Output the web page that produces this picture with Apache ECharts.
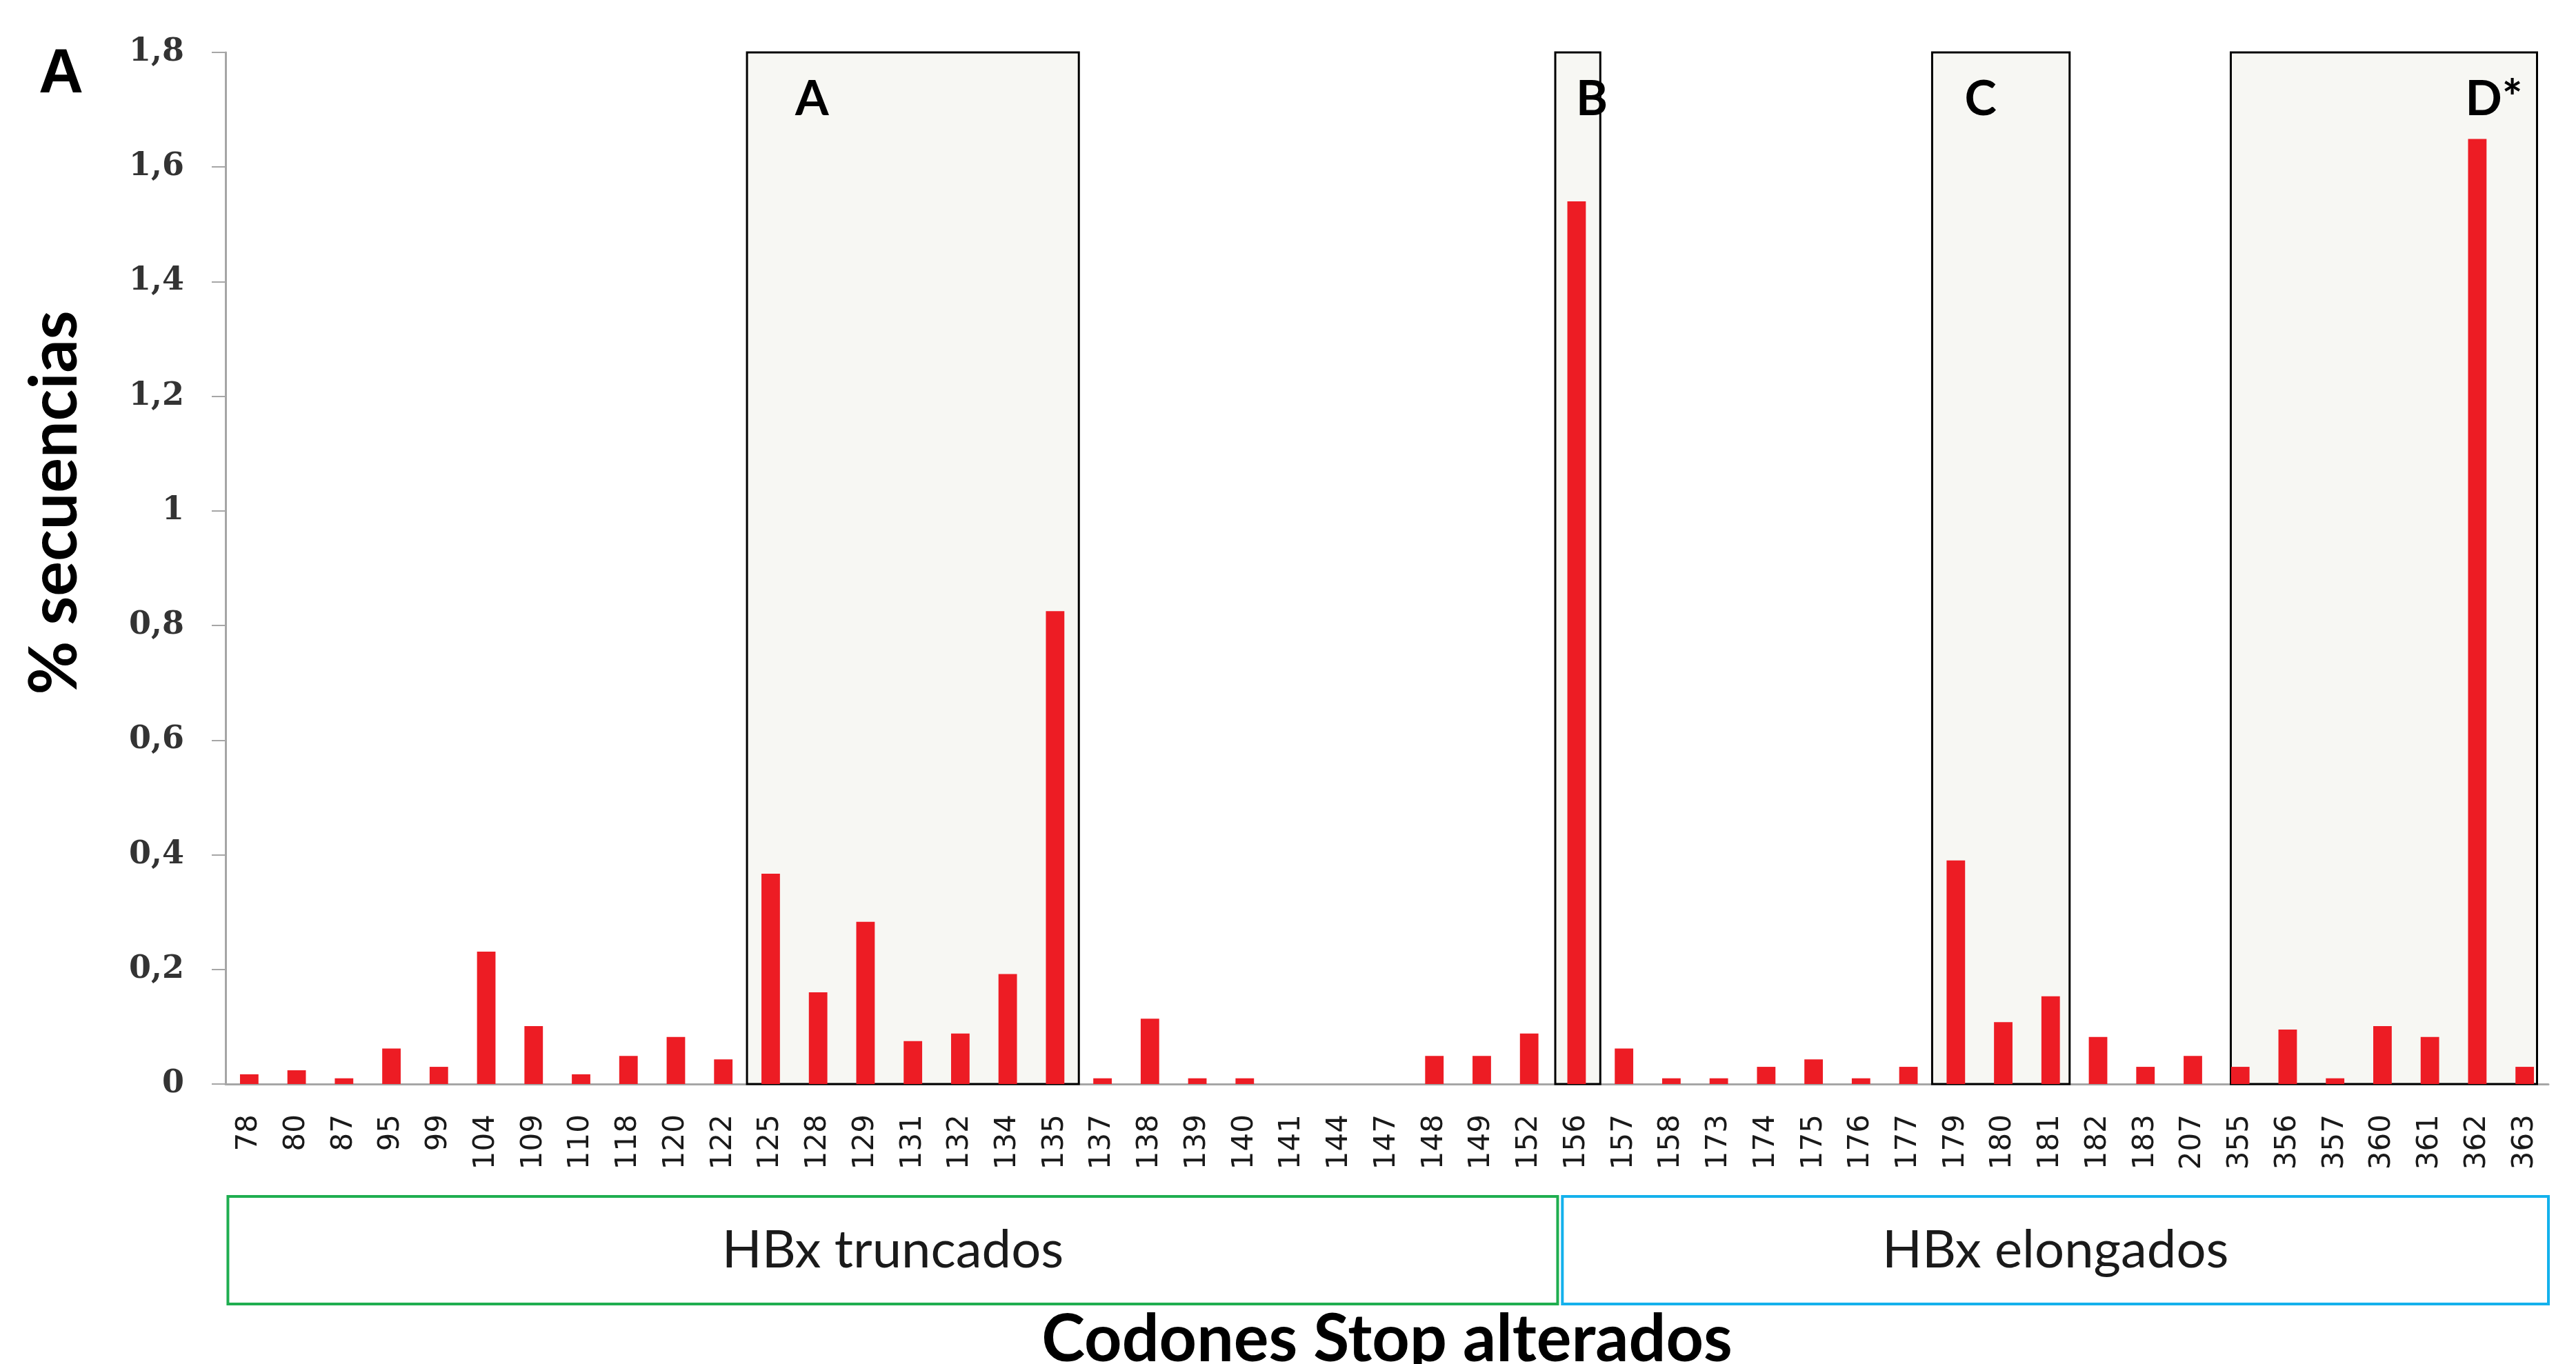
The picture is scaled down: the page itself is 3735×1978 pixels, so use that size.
<!DOCTYPE html>
<html>
<head>
<meta charset="utf-8">
<script src="https://cdn.jsdelivr.net/npm/echarts@6/dist/echarts.min.js"></script>
<style>
  html, body { margin: 0; padding: 0; background: #fff; }
  #main { width: 3735px; height: 1978px; }
</style>
</head>
<body>
<div id="main"></div>
<script>
// codones stop alterados (x) y % de secuencias (y)
var codons = ['78', '80', '87', '95', '99', '104', '109', '110', '118', '120', '122',
    '125', '128', '129', '131', '132', '134', '135', '137', '138', '139', '140', '141',
    '144', '147', '148', '149', '152', '156', '157', '158', '173', '174', '175', '176',
    '177', '179', '180', '181', '182', '183', '207', '355', '356', '357', '360', '361',
    '362', '363'];
var percent = [0.017, 0.024, 0.010, 0.062, 0.030, 0.231, 0.101, 0.017, 0.049, 0.082, 0.043,
    0.367, 0.160, 0.283, 0.075, 0.088, 0.192, 0.825, 0.010, 0.114, 0.010, 0.010, 0,
    0, 0, 0.049, 0.049, 0.088, 1.540, 0.062, 0.010, 0.010, 0.030, 0.043, 0.010,
    0.030, 0.390, 0.108, 0.153, 0.082, 0.030, 0.049, 0.030, 0.095, 0.010, 0.101, 0.082,
    1.649, 0.030];

// recuadros A-D (en unidades de indice de categoria)
var boxNames = ['A', 'B', 'C', 'D*'];
var boxFrom = [10.5, 27.55, 35.5, 41.8];
var boxTo = [17.5, 28.5, 38.4, 48.26];

// grupos bajo el eje
var groupNames = ['HBx truncados', 'HBx elongados'];
var groupFrom = [-0.45, 27.7];
var groupTo = [27.6, 48.5];

var yMax = 1.8;
var boxLabelAt = [11.87, 28.32, 36.52, 47.35];
var groupColors = ['#1fae50', '#14b1ec'];

var myChart = echarts.init(document.getElementById('main'));

function bandX(api) {
    var band = api.size([1, 0])[0];
    var x0 = api.coord([0, 0])[0];
    return function (v) { return x0 + v * band; };
}

function renderBox(params, api) {
    var i = params.dataIndex;
    var toX = bandX(api);
    var yTop = api.coord([0, yMax])[1];
    var yBot = api.coord([0, 0])[1];
    return {
        type: 'group',
        children: [{
            type: 'rect',
            shape: { x: toX(boxFrom[i]), y: yTop, width: toX(boxTo[i]) - toX(boxFrom[i]), height: yBot - yTop },
            style: { fill: '#f7f7f3', stroke: '#000', lineWidth: 3 }
        }, {
            type: 'text',
            x: toX(boxLabelAt[i]),
            y: yTop + 68,
            style: { text: boxNames[i], font: 'bold 70px Lato', fill: '#000', align: 'center', verticalAlign: 'middle' }
        }]
    };
}

function renderGroup(params, api) {
    var i = params.dataIndex;
    var toX = bandX(api);
    var yBot = api.coord([0, 0])[1];
    var x1 = toX(groupFrom[i]), x2 = toX(groupTo[i]);
    return {
        type: 'group',
        children: [{
            type: 'rect',
            shape: { x: x1, y: yBot + 163, width: x2 - x1, height: 156 },
            style: { fill: 'none', stroke: groupColors[i], lineWidth: 4 }
        }, {
            type: 'text',
            x: (x1 + x2) / 2,
            y: yBot + 241,
            style: { text: groupNames[i], font: '76px Lato', fill: '#1a1a1a', align: 'center', verticalAlign: 'middle' }
        }]
    };
}

myChart.setOption({
    animation: false,
    backgroundColor: '#fff',
    grid: { left: 327, right: 40, top: 76, bottom: 406, outerBoundsMode: 'none', containLabel: false },
    graphic: [{
        type: 'text', left: 56, top: 64,
        style: { text: 'A', font: 'bold 90px "Liberation Sans"', fill: '#000' }
    }, {
        type: 'text', x: 80, y: 729, rotation: Math.PI / 2,
        style: { text: '% secuencias', font: 'bold 95px Lato', fill: '#000', align: 'center', verticalAlign: 'middle' }
    }],
    xAxis: {
        type: 'category',
        data: codons,
        name: 'Codones Stop alterados',
        nameLocation: 'middle',
        nameGap: 324,
        nameTextStyle: { fontFamily: 'Lato', fontWeight: 'bold', fontSize: 95, color: '#000' },
        axisLine: { lineStyle: { color: '#a6a6a6', width: 3 } },
        axisTick: { length: 27, lineStyle: { color: '#b4b4b4', width: 2 } },
        axisLabel: { rotate: 90, margin: 44, fontFamily: 'DejaVu Sans', fontSize: 42, color: '#1a1a1a', interval: 0 }
    },
    yAxis: {
        type: 'value',
        min: 0,
        max: yMax,
        interval: 0.2,
        axisLine: { show: true, lineStyle: { color: '#a6a6a6', width: 3 } },
        axisTick: { show: true, length: 20, lineStyle: { color: '#a6a6a6', width: 2 } },
        splitLine: { show: false },
        axisLabel: {
            margin: 60,
            fontFamily: 'DejaVu Serif',
            fontWeight: 'bold',
            fontSize: 46,
            color: '#333',
            formatter: function (v) { return String(+v.toFixed(1)).replace('.', ','); }
        }
    },
    series: [{
        type: 'custom',
        z: 1,
        renderItem: renderBox,
        data: boxNames.map(function (n, i) { return [i, 0]; })
    }, {
        type: 'custom',
        z: 1,
        clip: false,
        renderItem: renderGroup,
        data: groupNames.map(function (n, i) { return [i, 0]; })
    }, {
        type: 'bar',
        z: 3,
        barWidth: '39%',
        itemStyle: { color: '#ed1c24' },
        data: percent
    }]
});
</script>
</body>
</html>
